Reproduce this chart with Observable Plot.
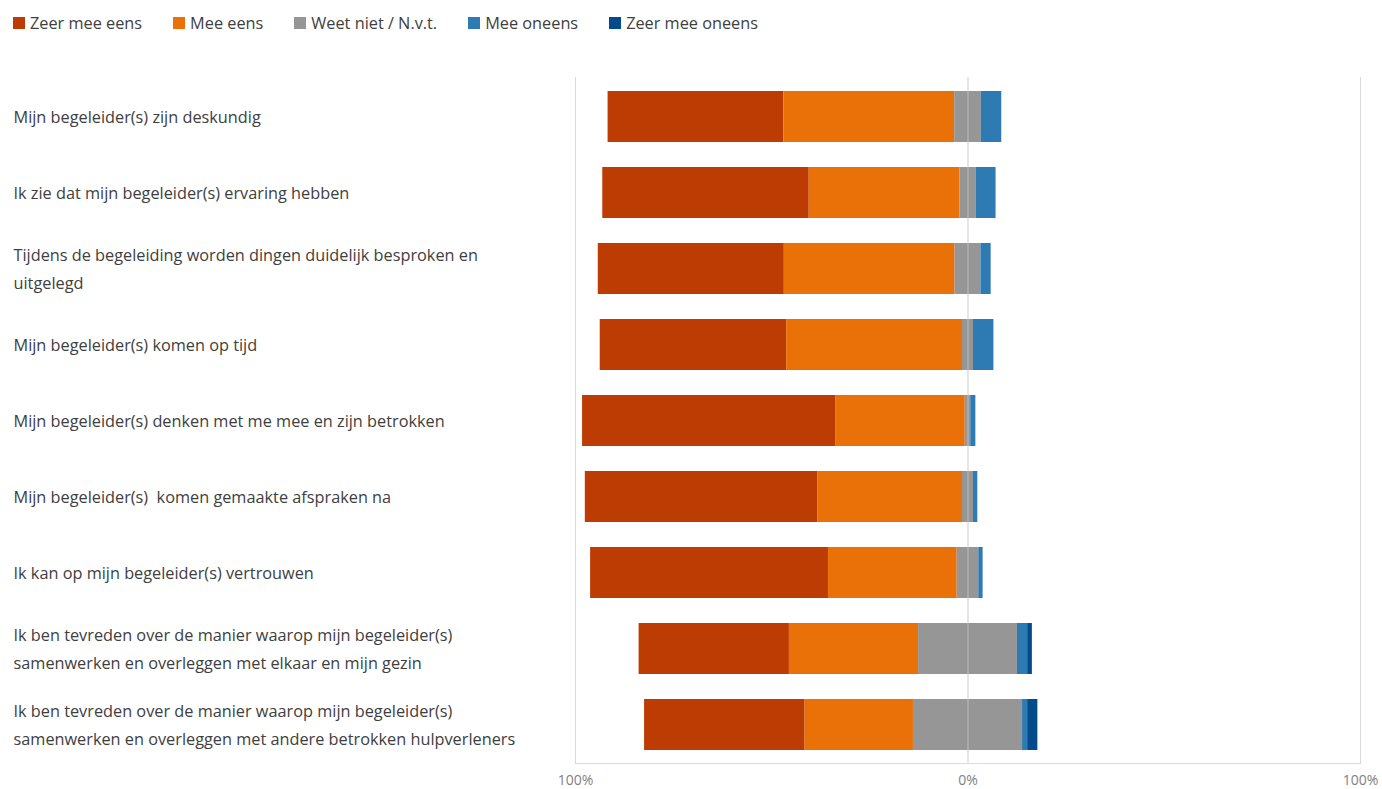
<!DOCTYPE html>
<html><head><meta charset="utf-8">
<script src="https://cdn.jsdelivr.net/npm/d3@7"></script>
<script src="https://cdn.jsdelivr.net/npm/@observablehq/plot@0.6"></script>
<style>
body{margin:0;background:#fff;font-family:"Open Sans",sans-serif;}
#legend{display:flex;align-items:center;height:45px;padding-left:13px;font-size:16.3px;color:#404040;box-sizing:border-box;}
.item{display:flex;align-items:center;margin-right:31px;}
.sw{width:12px;height:12px;margin-right:5px;}
#chart svg{display:block;}
</style></head><body>
<div id="legend"></div><div id="chart"></div>
<script>
const categories = [
  "Mijn begeleider(s) zijn deskundig",
  "Ik zie dat mijn begeleider(s) ervaring hebben",
  "Tijdens de begeleiding worden dingen duidelijk besproken en uitgelegd",
  "Mijn begeleider(s) komen op tijd",
  "Mijn begeleider(s) denken met me mee en zijn betrokken",
  "Mijn begeleider(s)  komen gemaakte afspraken na",
  "Ik kan op mijn begeleider(s) vertrouwen",
  "Ik ben tevreden over de manier waarop mijn begeleider(s) samenwerken en overleggen met elkaar en mijn gezin",
  "Ik ben tevreden over de manier waarop mijn begeleider(s) samenwerken en overleggen met andere betrokken hulpverleners"
];
const categoryLabels = [
  "Mijn begeleider(s) zijn deskundig",
  "Ik zie dat mijn begeleider(s) ervaring hebben",
  "Tijdens de begeleiding worden dingen duidelijk besproken en\nuitgelegd",
  "Mijn begeleider(s) komen op tijd",
  "Mijn begeleider(s) denken met me mee en zijn betrokken",
  "Mijn begeleider(s)\u00a0 komen gemaakte afspraken na",
  "Ik kan op mijn begeleider(s) vertrouwen",
  "Ik ben tevreden over de manier waarop mijn begeleider(s)\nsamenwerken en overleggen met elkaar en mijn gezin",
  "Ik ben tevreden over de manier waarop mijn begeleider(s)\nsamenwerken en overleggen met andere betrokken hulpverleners"
];
const series = ["Zeer mee eens", "Mee eens", "Weet niet / N.v.t.", "Mee oneens", "Zeer mee oneens"];
const seriesColors = ["#bc3c03", "#ea7107", "#969696", "#2e7ab3", "#034b89"];

const zeerMeeEens   = [44.8, 52.6, 47.4, 47.5, 64.6, 59.2, 60.6, 38.3, 40.9];
const meeEens       = [43.5, 38.4, 43.5, 44.8, 32.9, 36.9, 32.8, 32.9, 27.6];
const weetNiet      = [6.8, 4.1, 6.6, 2.8, 1.4, 2.8, 5.5, 25.2, 27.8];
const meeOneens     = [5.2, 5.1, 2.6, 5.2, 1.3, 1.1, 1.1, 2.6, 1.3];
const zeerMeeOneens = [0, 0, 0, 0, 0, 0, 0, 1.2, 2.6];

const xTicks = [-100, 0, 100];
const xTickLabels = ["100%", "0%", "100%"];

// legend
const legend = document.getElementById("legend");
series.forEach((s, j) => {
  const it = document.createElement("div"); it.className = "item";
  const sw = document.createElement("div"); sw.className = "sw"; sw.style.background = seriesColors[j];
  const tx = document.createElement("span"); tx.textContent = s;
  it.appendChild(sw); it.appendChild(tx); legend.appendChild(it);
});

// diverging stack: neutral centred on 0
const seriesValues = [zeerMeeEens, meeEens, weetNiet, meeOneens, zeerMeeOneens];
const rows = [];
categories.forEach((c, i) => {
  let x = -(zeerMeeEens[i] + meeEens[i] + weetNiet[i] / 2);
  series.forEach((s, j) => {
    const v = seriesValues[j][i];
    if (v > 0) rows.push({category: c, series: s, x1: x, x2: x + v});
    x += v;
  });
});

const chart = Plot.plot({
  width: 1382, height: 744,
  marginTop: 32, marginBottom: 26, marginLeft: 575, marginRight: 22,
  style: {fontFamily: "'Open Sans', sans-serif", background: "#fff"},
  x: {domain: [-100, 100], label: null},
  y: {domain: categories, paddingInner: 0.33, paddingOuter: 0.165, label: null},
  color: {domain: series, range: seriesColors},
  marks: [
    Plot.gridX(xTicks, {stroke: "#d9d9d9", strokeOpacity: 1}),
    Plot.frame({anchor: "bottom", stroke: "#d9d9d9"}),
    Plot.barX(rows, {y: "category", x1: "x1", x2: "x2", fill: "series"}),
    Plot.ruleX([0], {stroke: "#d9d9d9", strokeOpacity: 0.6}),
    Plot.axisX(xTicks, {tickSize: 0, tickPadding: 12, fontSize: 14, color: "#7f7f7f",
      tickFormat: d => xTickLabels[xTicks.indexOf(d)], label: null}),
    Plot.axisY({tickSize: 0, tickPadding: 0, textAnchor: "start", dx: -562, dy: -3, fontSize: 16.3,
      lineHeight: 1.75, color: "#404040",
      tickFormat: c => categoryLabels[categories.indexOf(c)], label: null})
  ]
});
document.getElementById("chart").appendChild(chart);
</script>
</body></html>
